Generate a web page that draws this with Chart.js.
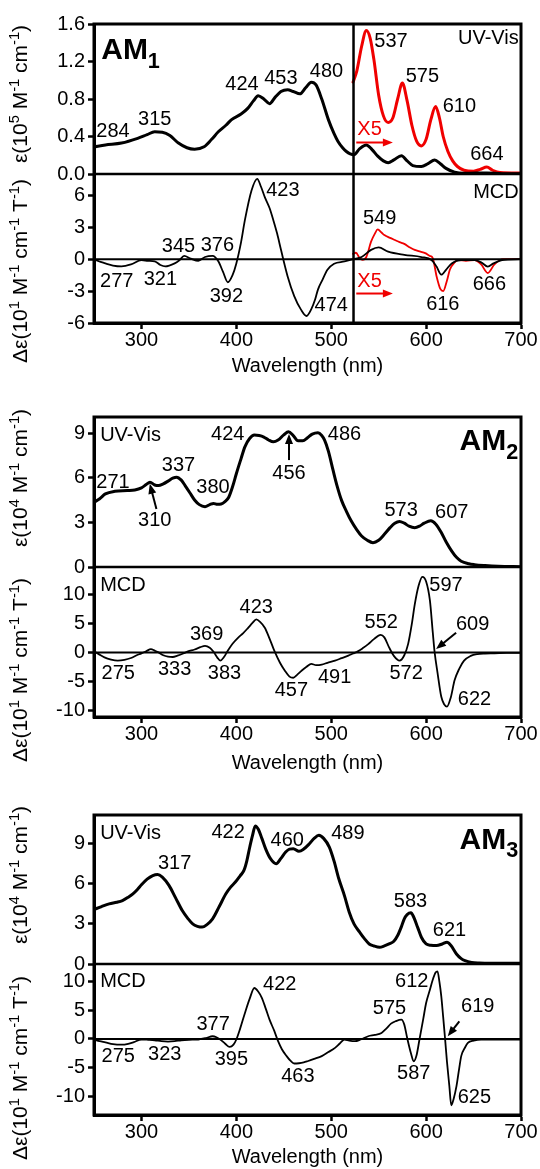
<!DOCTYPE html>
<html>
<head>
<meta charset="utf-8">
<script src="https://cdn.jsdelivr.net/npm/chart.js@4.4.1/dist/chart.umd.min.js"></script>
<style>
  html, body { margin: 0; padding: 0; background: #fff; }
  body { width: 540px; height: 1169px; position: relative; overflow: hidden; }
  canvas { position: absolute; left: 0; }
</style>
</head>
<body>
<canvas id="am1" width="540" height="380" style="top:0px"></canvas>
<canvas id="am2" width="540" height="395" style="top:380px"></canvas>
<canvas id="am3" width="540" height="394" style="top:775px"></canvas>
<script>
// Data: [wavelength nm, value]
const xTicks = [300, 400, 500, 600, 700];
const am1UvTicks = [0, 0.4, 0.8, 1.2, 1.6];
const am1McdTicks = [-6, -3, 0, 3, 6];
const uvTicks = [0, 3, 6, 9];
const mcdTicks = [-10, -5, 0, 5, 10];

const am1Uv = [[250,0.29],[262,0.31],[279,0.33],[296,0.38],[306,0.42],[314,0.45],[322,0.445],[330,0.41],[339,0.33],[348,0.28],[356,0.265],[366,0.29],[374,0.37],[381,0.45],[389,0.52],[395,0.58],[405,0.64],[412,0.70],[418,0.78],[423,0.834],[429,0.80],[435,0.75],[441,0.82],[447,0.88],[454,0.90],[460,0.88],[467,0.855],[473,0.92],[479,0.98],[484,0.95],[490,0.80],[497,0.58],[503,0.43],[507,0.35],[512,0.28],[516,0.24],[520,0.215],[524,0.205],[530,0.27],[537,0.31],[543,0.26],[549,0.19],[555,0.14],[560,0.12],[566,0.15],[574,0.195],[580,0.14],[586,0.09],[595,0.08],[602,0.11],[609,0.15],[615,0.11],[621,0.06],[630,0.02],[640,0.008],[664,0.012],[680,0.004],[700,0.003]];
const am1UvX5 = [[523,0.98],[527,1.1],[532,1.36],[537,1.53],[541,1.45],[545,1.22],[550,0.84],[555,0.62],[560,0.55],[565,0.6],[570,0.8],[575,0.97],[580,0.78],[585,0.52],[590,0.35],[595,0.30],[600,0.37],[605,0.58],[610,0.72],[614,0.6],[618,0.40],[623,0.24],[628,0.14],[633,0.08],[640,0.04],[650,0.03],[657,0.05],[664,0.075],[670,0.04],[678,0.015],[700,0.01]];
const am1Mcd = [[250,0],[255,-0.2],[261,-0.37],[270,-0.6],[279,-0.68],[289,-0.5],[300,-0.1],[307,-0.15],[314,-0.2],[320,-0.55],[325,-0.68],[335,-0.4],[340,-0.1],[345,0.3],[352,0.05],[360,-0.15],[367,0.2],[375,0.3],[381,-0.2],[386,-1.2],[391,-2.17],[396,-1.5],[400,-0.4],[405,1.6],[409,3.66],[416,6.45],[422,7.55],[426,6.8],[430,5.83],[435,4.8],[439,3.66],[443,2.4],[447,0.9],[454,-1.6],[461,-3.47],[468,-4.72],[474,-5.34],[479,-4.7],[483,-3.8],[486,-2.86],[491,-1.9],[496,-1.0],[503,-0.43],[514,-0.22],[523,0],[532,0.2],[542,0.87],[550,1.1],[560,0.7],[577,0.4],[595,0.2],[606,-0.1],[611,-0.7],[616,-1.46],[621,-1.0],[627,-0.4],[637,-0.1],[651,-0.1],[658,-0.3],[665,-0.7],[671,-0.4],[680,-0.1],[700,0]];
const am1McdX5 = [[523,0.5],[526,0.6],[530,0.1],[533,-0.06],[537,0.2],[542,1.64],[546,2.4],[549,2.79],[553,2.5],[556,2.26],[562,2.0],[567,1.8],[572,1.6],[577,1.43],[583,1.1],[588,0.87],[594,0.7],[599,0.56],[604,0.3],[607,0.1],[611,-1.6],[615,-2.8],[618,-3.0],[622,-2.0],[625,-1.0],[630,-0.3],[634,-0.1],[642,-0.15],[651,-0.1],[658,-0.5],[665,-1.3],[672,-0.5],[681,0],[700,0]];

const am2Uv = [[250,4.36],[256,4.6],[262,4.92],[272,5.1],[285,5.15],[293,5.19],[300,5.33],[305,5.55],[309,5.71],[314,5.52],[318,5.48],[323,5.6],[328,5.78],[333,5.98],[337,6.05],[342,5.85],[346,5.48],[351,5.0],[356,4.51],[361,4.2],[367,4.06],[372,4.2],[376,4.28],[380,4.22],[384,4.24],[388,4.4],[392,4.7],[396,5.4],[400,6.28],[405,7.3],[409,8.09],[414,8.65],[419,8.88],[424,8.85],[429,8.75],[434,8.55],[439,8.43],[444,8.55],[450,8.9],[455,9.11],[460,8.85],[465,8.5],[470,8.5],[475,8.7],[480,8.95],[486,9.04],[490,8.85],[493,8.54],[497,7.8],[502,6.5],[506,5.5],[511,4.47],[516,3.75],[521,3.11],[527,2.5],[532,2.09],[538,1.8],[544,1.64],[550,1.8],[556,2.2],[562,2.65],[567,2.95],[572,3.07],[577,2.95],[582,2.75],[588,2.65],[593,2.75],[598,2.95],[605,3.11],[610,2.9],[616,2.32],[621,1.7],[627,1.07],[632,0.65],[637,0.39],[645,0.22],[651,0.16],[662,0.1],[676,0.05],[700,0.02]];
const am2Mcd = [[250,0.17],[255,-0.3],[261,-0.86],[268,-1.25],[275,-1.43],[282,-1.3],[289,-0.97],[295,-0.5],[300,-0.17],[305,0.2],[310,0.57],[314,0.3],[318,0],[323,-0.5],[328,-0.74],[333,-0.8],[338,-0.57],[344,-0.2],[349,0.17],[356,0.5],[362,0.9],[367,1.14],[372,0.8],[376,0.1],[380,-0.9],[383,-1.43],[387,-0.8],[391,0.29],[396,1.5],[402,2.57],[407,3.3],[412,4.17],[417,5.1],[421,5.71],[425,5.3],[430,4.28],[435,2.4],[440,0.29],[446,-1.8],[451,-3.14],[456,-4.2],[460,-4.4],[464,-3.9],[469,-3.14],[474,-2.5],[479,-2.0],[484,-2.2],[490,-2.11],[496,-1.8],[504,-1.43],[511,-1.0],[518,-0.57],[523,-0.2],[528,0.17],[533,0.7],[539,1.43],[545,2.3],[552,3.03],[556,2.6],[561,0.86],[566,-0.6],[572,-1.43],[577,-0.5],[581,1.43],[585,5.0],[588,8.28],[592,11.5],[596,13.1],[600,12.3],[604,9.0],[607,3.5],[609,0],[612,-3.5],[616,-7.7],[619,-9.0],[622,-9.4],[626,-7.8],[630,-4.85],[635,-2.8],[640,-1.43],[647,-0.6],[654,-0.29],[662,-0.2],[672,-0.17],[685,-0.1],[700,-0.1]];

const am3Uv = [[250,4.08],[258,4.3],[266,4.5],[274,4.62],[280,4.75],[286,5.0],[291,5.25],[296,5.6],[300,5.93],[306,6.35],[312,6.62],[317,6.7],[322,6.5],[329,5.88],[336,4.95],[343,4.0],[349,3.4],[354,3.0],[359,2.82],[364,2.76],[369,2.95],[375,3.38],[382,4.3],[389,5.25],[394,5.75],[399,6.13],[404,6.6],[408,7.0],[411,7.7],[414,8.7],[417,9.6],[420,10.33],[423,10.1],[427,9.38],[431,8.6],[436,7.88],[442,7.5],[447,7.9],[452,8.38],[456,8.6],[460,8.63],[466,8.43],[471,8.6],[477,9.0],[482,9.4],[487,9.63],[492,9.4],[498,8.75],[503,7.7],[508,6.38],[514,5.1],[519,3.88],[524,3.0],[530,2.38],[535,1.9],[540,1.5],[545,1.35],[551,1.25],[556,1.35],[561,1.5],[566,1.7],[570,2.13],[574,2.8],[577,3.38],[580,3.7],[584,3.83],[587,3.5],[591,2.76],[595,2.0],[600,1.5],[605,1.4],[611,1.38],[617,1.5],[622,1.63],[626,1.4],[632,0.75],[637,0.4],[641,0.25],[648,0.12],[656,0.08],[675,0.06],[700,0.05]];
const am3Mcd = [[250,-0.1],[256,-0.4],[262,-0.6],[270,-0.9],[279,-1.0],[286,-0.85],[292,-0.55],[300,-0.1],[307,-0.15],[314,-0.23],[321,-0.4],[328,-0.47],[335,-0.4],[342,-0.23],[350,-0.15],[360,-0.1],[368,0.15],[375,0.47],[379,0.3],[383,-0.1],[388,-0.8],[393,-1.4],[397,-1.0],[400,-0.1],[404,1.8],[409,4.5],[414,7.0],[419,8.9],[423,8.3],[427,7.15],[431,5.3],[435,3.37],[440,1.4],[444,-0.4],[448,-1.8],[453,-3.0],[457,-3.8],[461,-4.3],[466,-4.25],[471,-4.1],[475,-3.9],[482,-3.5],[490,-3.0],[497,-2.3],[504,-1.57],[509,-0.8],[514,-0.1],[519,-0.3],[525,-0.4],[531,-0.1],[539,0.47],[546,0.7],[553,1.05],[558,1.8],[563,2.67],[568,3.1],[574,3.37],[577,2.5],[580,0.2],[584,-2.5],[587,-3.9],[590,-2.8],[593,-0.1],[597,3.5],[600,6.28],[604,8.6],[607,10.35],[610,11.6],[612,11.8],[614,10.0],[616,7.44],[618,3.8],[620,0],[622,-4.0],[624.5,-8.26],[626.5,-11.6],[629,-10.5],[632,-8.26],[635,-5.0],[637,-3.0],[641,-1.5],[644,-0.7],[650,-0.3],[658,-0.1],[680,-0.1],[700,-0.1]];

// Peak labels: [nm, value, text, align, colour]
const am1UvLabels = [[270,0.45,'284'],[314,0.58,'315'],[406,0.95,'424'],[447,1.02,'453'],[495,1.09,'480'],[563,1.41,'537'],[596,1.04,'575'],[635,0.72,'610'],[664,0.205,'664'],[540.4,0.47,'X5','center','#f00000'],[697.6,1.45,'UV-Vis','right']];
const am1McdLabels = [[449,6.45,'423'],[339,1.17,'345'],[380,1.3,'376'],[274,-2.08,'277'],[320,-1.9,'321'],[389.5,-3.48,'392'],[500,-4.4,'474'],[551,3.81,'549'],[617.6,-4.25,'616'],[666.7,-2.4,'666'],[540.4,-2.08,'X5','center','#f00000'],[697.6,6.26,'MCD','right']];
const am2UvLabels = [[256.5,8.88,'UV-Vis','left'],[270,5.71,'271'],[314,3.16,'310'],[339,6.84,'337'],[375.4,5.33,'380'],[391,8.95,'424'],[455.5,6.32,'456'],[514,8.95,'486'],[573.7,3.79,'573'],[627,3.68,'607']];
const am2McdLabels = [[256.5,11.6,'MCD','left'],[275.6,-3.6,'275'],[335,-3.0,'333'],[368.7,3.14,'369'],[387.5,-3.6,'383'],[421,7.7,'423'],[458,-6.56,'457'],[503.6,-4.4,'491'],[552.7,5.14,'552'],[579,-3.6,'572'],[621,11.6,'597'],[649,4.85,'609'],[651,-8.16,'622']];
const am3UvLabels = [[256.5,9.75,'UV-Vis','left'],[335,7.5,'317'],[391.3,9.83,'422'],[453.7,9.25,'460'],[517.6,9.75,'489'],[583.6,4.68,'583'],[624.6,2.5,'621']];
const am3McdLabels = [[256.5,10.06,'MCD','left'],[275.6,-3.0,'275'],[324.6,-2.7,'323'],[375.5,2.5,'377'],[394.8,-3.6,'395'],[445.7,9.48,'422'],[464.9,-6.5,'463'],[561.4,5.4,'575'],[587,-6.05,'587'],[584.9,10.06,'612'],[654.4,5.7,'619'],[650.9,-10.3,'625']];

// Arrows: [nm1, v1, nm2, v2, colour] (head at second point)
const am1UvArrows = [[526.4,0.336,565,0.336,'#f00000']];
const am1McdArrows = [[526.4,-3.23,565,-3.23,'#f00000']];
const am2UvArrows = [[315.8,3.9,308.8,5.6],[455.5,7.2,455.5,8.95]];
const am2McdArrows = [[631.6,3.42,610.5,0.57]];
const am3McdArrows = [[635,3.08,622.8,0.47]];

const FONT = "'Liberation Sans', Arial, Helvetica, sans-serif";
const RED = '#f00000';

const uvTitle = n => [['\u03b5(10', ''], [n, 'sup'], [' M', ''], ['-1', 'sup'], [' cm', ''], ['-1', 'sup'], [')', '']];
const mcdTitle = [['\u0394\u03b5(10', ''], ['1', 'sup'], [' M', ''], ['-1', 'sup'], [' cm', ''], ['-1', 'sup'], [' T', ''], ['-1', 'sup'], [')', '']];

function pts(list) {
    return list.map(p => ({ x: p[0], y: p[1] }));
}

function drawRich(ctx, parts, x, y, size, weight, align, small) {
    let w = 0;
    const pieces = parts.map(([t, k]) => {
        const s = k ? size * (small || 0.62) : size;
        ctx.font = `${weight} ${s}px ${FONT}`;
        const pw = ctx.measureText(t).width;
        w += pw;
        return { t, k, s, pw };
    });
    let cx = align === 'center' ? x - w / 2 : align === 'right' ? x - w : x;
    ctx.textAlign = 'left';
    ctx.textBaseline = 'alphabetic';
    pieces.forEach(p => {
        ctx.font = `${weight} ${p.s}px ${FONT}`;
        const dy = p.k === 'sup' ? -size * 0.4 : p.k === 'sub' ? size * 0.28 : 0;
        ctx.fillText(p.t, cx, y + dy);
        cx += p.pw;
    });
}

function seg(ctx, x1, y1, x2, y2, lw) {
    ctx.lineWidth = lw;
    ctx.beginPath();
    ctx.moveTo(x1, y1);
    ctx.lineTo(x2, y2);
    ctx.stroke();
}

function arrow(ctx, x1, y1, x2, y2, col) {
    const ang = Math.atan2(y2 - y1, x2 - x1);
    const hl = 10, hw = 4;
    ctx.strokeStyle = col;
    ctx.fillStyle = col;
    seg(ctx, x1, y1, x2 - Math.cos(ang) * hl * 0.8, y2 - Math.sin(ang) * hl * 0.8, 2);
    ctx.beginPath();
    ctx.moveTo(x2, y2);
    ctx.lineTo(x2 - Math.cos(ang) * hl - Math.sin(ang) * hw, y2 - Math.sin(ang) * hl + Math.cos(ang) * hw);
    ctx.lineTo(x2 - Math.cos(ang) * hl + Math.sin(ang) * hw, y2 - Math.sin(ang) * hl - Math.cos(ang) * hw);
    ctx.closePath();
    ctx.fill();
}

// Frame, zero line, labels, arrows
const figurePlugin = {
    id: 'figure',
    afterDatasetsDraw(chart, args, o) {
        const { ctx, chartArea: a } = chart;
        const { x, yu, ym } = chart.scales;
        ctx.save();
        ctx.strokeStyle = '#000';
        const z = ym.getPixelForValue(0);
        seg(ctx, a.left, z, a.right, z, 2);
        seg(ctx, a.left, yu.bottom, a.right, yu.bottom, 2.5);
        if (o.split) {
            const sx = x.getPixelForValue(o.split);
            seg(ctx, sx, a.top, sx, a.bottom, 2.5);
        }
        ctx.lineWidth = 3;
        ctx.strokeRect(a.left, a.top, a.right - a.left, a.bottom - a.top);

        [[yu, o.uvLabels], [ym, o.mcdLabels]].forEach(([sc, list]) => {
            ctx.font = `20px ${FONT}`;
            ctx.textBaseline = 'middle';
            list.forEach(([nx, ny, t, al, col]) => {
                ctx.fillStyle = col || '#000';
                ctx.textAlign = al || 'center';
                ctx.fillText(t, x.getPixelForValue(nx), sc.getPixelForValue(ny));
            });
        });
        [[yu, o.uvArrows || []], [ym, o.mcdArrows || []]].forEach(([sc, list]) => {
            list.forEach(([x1, y1, x2, y2, col]) => {
                arrow(ctx, x.getPixelForValue(x1), sc.getPixelForValue(y1),
                      x.getPixelForValue(x2), sc.getPixelForValue(y2), col || '#000');
            });
        });

        const [tx, ty, sub, al] = o.tag;
        ctx.fillStyle = '#000';
        drawRich(ctx, [['AM', ''], [sub, 'sub']], x.getPixelForValue(tx), yu.getPixelForValue(ty) + 10, 30, 'bold', al, 0.72);
        ctx.restore();
    },
    afterDraw(chart, args, o) {
        const ctx = chart.ctx;
        ctx.save();
        ctx.fillStyle = '#000';
        o.titles.forEach(([cx, cy, parts]) => {
            ctx.save();
            ctx.translate(cx, cy);
            ctx.rotate(-Math.PI / 2);
            drawRich(ctx, parts, 0, 7, 21, 'normal', 'center', 0.7);
            ctx.restore();
        });
        ctx.restore();
    }
};

function makeChart(id, c) {
    const H = document.getElementById(id).height;
    const axisFont = { family: FONT, size: 20 };
    const yCommon = {
        type: 'linear',
        position: 'left',
        stack: 'panel',
        border: { display: true, color: '#000', width: 3 },
        grid: { drawOnChartArea: false, drawTicks: true, tickLength: 6, tickColor: '#000', tickWidth: 2.5 },
        afterFit: s => { s.width = 94; }
    };
    return new Chart(document.getElementById(id), {
        type: 'line',
        data: {
            datasets: c.series.map(([list, axis, col, bw]) => ({
                data: pts(list),
                yAxisID: axis,
                borderColor: col,
                borderWidth: bw,
                pointRadius: 0,
                fill: false,
                cubicInterpolationMode: 'monotone',
                borderJoinStyle: 'round',
                borderCapStyle: 'round'
            }))
        },
        options: {
            responsive: false,
            animation: false,
            devicePixelRatio: 1,
            layout: { padding: { left: 0, right: 19, top: c.top, bottom: 0 } },
            plugins: {
                legend: { display: false },
                tooltip: { enabled: false },
                figure: c.fig
            },
            scales: {
                x: {
                    type: 'linear',
                    min: 250,
                    max: 700,
                    border: { display: true, color: '#000', width: 3 },
                    grid: { drawOnChartArea: false, drawTicks: true, tickLength: 6, tickColor: '#000', tickWidth: 2.5 },
                    ticks: { color: '#000', font: { ...axisFont, lineHeight: 1 }, padding: 1, maxRotation: 0, autoSkip: false },
                    afterBuildTicks: s => { s.ticks = xTicks.map(v => ({ value: v })); },
                    title: { display: true, text: 'Wavelength (nm)', color: '#000', font: { family: FONT, size: 20 }, padding: { top: 0, bottom: c.titlePad } },
                    afterFit: s => { s.height = H - c.bottom; }
                },
                yu: {
                    ...yCommon,
                    weight: 2,
                    stackWeight: c.uvH,
                    min: c.uvRange[0],
                    max: c.uvRange[1],
                    ticks: { color: '#000', font: axisFont, padding: 3, autoSkip: false, callback: c.uvFmt },
                    afterBuildTicks: s => { s.ticks = c.uvTicks.map(v => ({ value: v })); }
                },
                ym: {
                    ...yCommon,
                    weight: 1,
                    stackWeight: c.mcdH,
                    min: c.mcdRange[0],
                    max: c.mcdRange[1],
                    ticks: { color: '#000', font: axisFont, padding: 3, autoSkip: false, callback: v => String(v) },
                    afterBuildTicks: s => { s.ticks = c.mcdTicks.map(v => ({ value: v })); }
                }
            }
        },
        plugins: [figurePlugin]
    });
}

makeChart('am1', {
    top: 24, bottom: 323, titlePad: 2, uvH: 150, mcdH: 149,
    uvRange: [0, 1.6], mcdRange: [-6, 8],
    uvTicks: am1UvTicks, mcdTicks: am1McdTicks,
    uvFmt: v => v.toFixed(1),
    series: [[am1Uv, 'yu', '#000', 3], [am1UvX5, 'yu', RED, 3], [am1Mcd, 'ym', '#000', 1.8], [am1McdX5, 'ym', RED, 1.8]],
    fig: {
        split: 523.5,
        uvLabels: am1UvLabels, mcdLabels: am1McdLabels,
        uvArrows: am1UvArrows, mcdArrows: am1McdArrows,
        tag: [257.6, 1.33, '1', 'left'],
        titles: [[20, 94, uvTitle('5')], [20, 271, mcdTitle]]
    }
});

makeChart('am2', {
    top: 37, bottom: 337, titlePad: 0, uvH: 150, mcdH: 150,
    uvRange: [0, 10.1], mcdRange: [-11.2, 14.8],
    uvTicks: uvTicks, mcdTicks: mcdTicks,
    uvFmt: v => String(v),
    series: [[am2Uv, 'yu', '#000', 3], [am2Mcd, 'ym', '#000', 1.8]],
    fig: {
        uvLabels: am2UvLabels, mcdLabels: am2McdLabels,
        uvArrows: am2UvArrows, mcdArrows: am2McdArrows,
        tag: [697, 8.52, '2', 'right'],
        titles: [[20, 98, uvTitle('4')], [20, 290, mcdTitle]]
    }
});

makeChart('am3', {
    top: 40, bottom: 340, titlePad: 0, uvH: 149, mcdH: 151,
    uvRange: [0, 11.15], mcdRange: [-13.3, 13.1],
    uvTicks: uvTicks, mcdTicks: mcdTicks,
    uvFmt: v => String(v),
    series: [[am3Uv, 'yu', '#000', 3], [am3Mcd, 'ym', '#000', 1.8]],
    fig: {
        uvLabels: am3UvLabels, mcdLabels: am3McdLabels,
        mcdArrows: am3McdArrows,
        tag: [697, 9.35, '3', 'right'],
        titles: [[20, 100, uvTitle('4')], [20, 293, mcdTitle]]
    }
});
</script>
</body>
</html>
